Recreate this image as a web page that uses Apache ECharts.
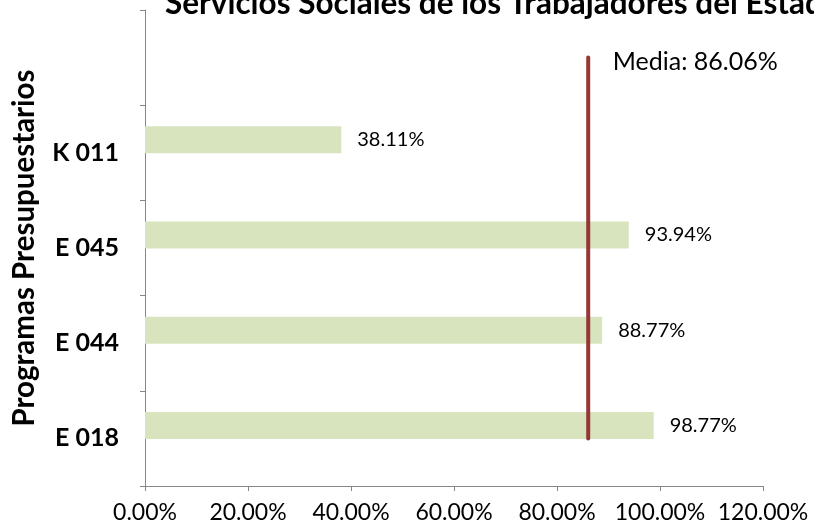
<!DOCTYPE html>
<html><head><meta charset="utf-8">
<script src="https://cdn.jsdelivr.net/npm/echarts@6/dist/echarts.min.js"></script>
<style>html,body{margin:0;padding:0;background:#fff}#c{width:814px;height:527px}</style>
</head><body><div id="c"></div>
<script>
const titleText = 'Servicios Sociales de los Trabajadores del Estado';
const yAxisName = 'Programas Presupuestarios';
const categories = ['E 018', 'E 044', 'E 045', 'K 011', ''];
const values = [98.77, 88.77, 93.94, 38.11, null];
const mediaValue = 86.06;
const mediaLabel = 'Media: 86.06%';
const xTicks = [0, 20, 40, 60, 80, 100, 120];

const font = 'Lato, "Open Sans", sans-serif';
const chart = echarts.init(document.getElementById('c'));
chart.setOption({
  animation: false,
  title: {
    text: titleText, left: 160, top: -17,
    textStyle: {fontFamily: font, fontSize: 31.5, fontWeight: 'bold', color: '#000'}
  },
  grid: {left: 145, right: 51, top: 10, bottom: 41, containLabel: false, outerBoundsMode: 'none'},
  xAxis: {
    type: 'value', min: xTicks[0], max: xTicks[xTicks.length - 1], interval: 20,
    axisLine: {show: true, lineStyle: {color: '#868686'}},
    axisTick: {show: true, length: 5, lineStyle: {color: '#868686'}},
    splitLine: {show: false},
    axisLabel: {
      formatter: v => v.toFixed(2) + '%', margin: 15,
      fontFamily: font, fontSize: 23, color: '#000'
    }
  },
  yAxis: {
    type: 'category', data: categories,
    name: yAxisName, nameLocation: 'middle', nameGap: 106, nameRotate: 90,
    nameTextStyle: {fontFamily: font, fontSize: 29.5, fontWeight: 'bold', color: '#000'},
    axisLine: {lineStyle: {color: '#868686'}},
    axisTick: {show: true, length: 5, lineStyle: {color: '#868686'}},
    axisLabel: {margin: 26, fontFamily: font, fontSize: 25, fontWeight: 'bold', color: '#000'}
  },
  series: [
    {
      type: 'bar', data: values, barWidth: 27, barGap: '-4%',
      itemStyle: {color: '#d7e4bd'},
      label: {
        show: true, position: 'right', distance: 16,
        formatter: p => p.value == null ? '' : p.value.toFixed(2) + '%',
        fontFamily: font, fontSize: 20, color: '#000'
      }
    },
    {type: 'bar', data: categories.map(() => null), barWidth: 27},
    {
      type: 'line',
      data: [
        {value: [mediaValue, 0], label: {show: false}},
        {value: [mediaValue, categories.length - 1], label: {show: true}}
      ],
      symbol: 'circle', symbolSize: 1,
      itemStyle: {color: '#953735'},
      lineStyle: {color: '#953735', width: 4, cap: 'round'},
      label: {
        position: 'right', distance: 24, offset: [0, 4],
        formatter: () => mediaLabel,
        fontFamily: font, fontSize: 25, color: '#000'
      },
      z: 5
    }
  ]
});
</script></body></html>
